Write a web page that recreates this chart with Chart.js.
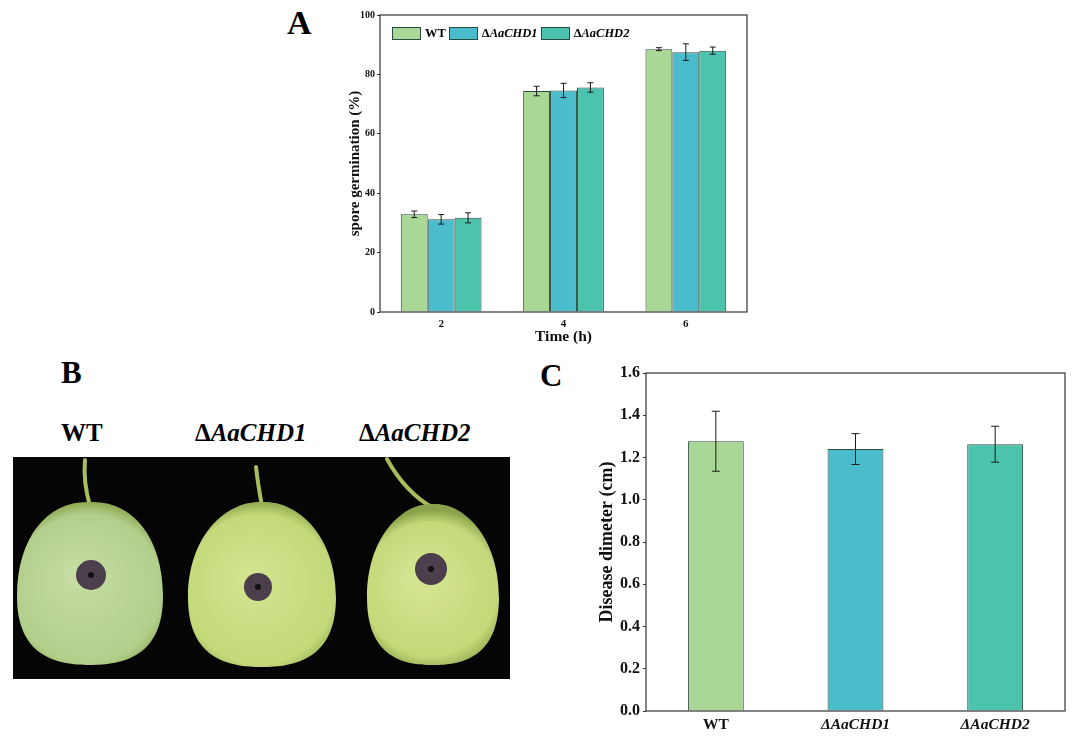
<!DOCTYPE html>
<html>
<head>
<meta charset="utf-8">
<script src="https://cdn.jsdelivr.net/npm/chart.js@4.4.1/dist/chart.umd.min.js"></script>
<style>
  body { margin: 0; width: 1080px; height: 739px; background: #fff; position: relative; overflow: hidden;
         font-family: "Liberation Serif", "Times New Roman", serif; }
  .abs { position: absolute; }
  .panel { font-weight: bold; font-size: 34px; line-height: 1; }
  .strain { font-weight: bold; font-size: 25px; line-height: 1; white-space: nowrap; }
  #legendA { left: 392px; top: 26px; font-weight: bold; font-size: 12.5px; display: flex; align-items: center; }
  #legendA .box { width: 27px; height: 11px; border: 1px solid #2d4a40; margin-right: 4px; }
  #legendA .item { display: flex; align-items: center; margin-right: 3px; }
</style>
</head>
<body>
<div class="abs panel" style="left:287px;top:6px;">A</div>
<div class="abs panel" style="left:61px;top:357px;font-size:31px;">B</div>
<div class="abs panel" style="left:540px;top:360px;font-size:31px;">C</div>

<canvas id="chartA" class="abs" style="left:330px;top:5px;" width="430" height="345"></canvas>
<div id="legendA" class="abs"></div>

<div class="abs strain" style="left:61px;top:420px;">WT</div>
<div class="abs strain" style="left:195px;top:420px;">&Delta;<i>AaCHD1</i></div>
<div class="abs strain" style="left:359px;top:420px;">&Delta;<i>AaCHD2</i></div>
<canvas id="photoB" class="abs" style="left:13px;top:457px;" width="497" height="222"></canvas>

<canvas id="chartC" class="abs" style="left:585px;top:360px;" width="490" height="379"></canvas>

<script>
// panel A: spore germination
const timeLabels = ['2', '4', '6'];
const strainNames = ['WT', '\u0394AaCHD1', '\u0394AaCHD2'];
const germWT = [32.9, 74.4, 88.5];
const germWTErr = [1.1, 1.6, 0.5];
const germCHD1 = [31.2, 74.6, 87.5];
const germCHD1Err = [1.6, 2.4, 2.8];
const germCHD2 = [31.7, 75.6, 88.0];
const germCHD2Err = [1.7, 1.6, 1.2];

// panel C: disease diameter
const diseaseDiam = [1.277, 1.240, 1.263];
const diseaseErr = [0.142, 0.073, 0.085];

const colors = ['#a9d795', '#4bbccb', '#4cc3ad'];
const edge = '#2d4a40';
const serif = '"Liberation Serif", "Times New Roman", serif';

// error bars + frame
const errorBars = {
  id: 'errorBars',
  afterDatasetsDraw(chart, args, opts) {
    const ctx = chart.ctx;
    const y = chart.scales.y;
    ctx.save();
    ctx.strokeStyle = '#1a1a1a';
    ctx.lineWidth = 1;
    chart.data.datasets.forEach((ds, i) => {
      const meta = chart.getDatasetMeta(i);
      meta.data.forEach((bar, j) => {
        const v = ds.data[j], e = ds.errors[j];
        const yt = y.getPixelForValue(v + e), yb = y.getPixelForValue(v - e);
        const c = opts.cap;
        ctx.beginPath();
        ctx.moveTo(bar.x, yt); ctx.lineTo(bar.x, yb);
        ctx.moveTo(bar.x - c, yt); ctx.lineTo(bar.x + c, yt);
        ctx.moveTo(bar.x - c, yb); ctx.lineTo(bar.x + c, yb);
        ctx.stroke();
      });
    });
    const a = chart.chartArea;
    ctx.strokeStyle = '#333';
    ctx.lineWidth = 1.2;
    ctx.strokeRect(a.left, a.top, a.right - a.left, a.bottom - a.top);
    ctx.restore();
  }
};

new Chart(document.getElementById('chartA'), {
  type: 'bar',
  data: {
    labels: timeLabels,
    datasets: [
      { label: strainNames[0], data: germWT, errors: germWTErr },
      { label: strainNames[1], data: germCHD1, errors: germCHD1Err },
      { label: strainNames[2], data: germCHD2, errors: germCHD2Err }
    ].map((d, i) => Object.assign(d, {
      backgroundColor: colors[i], borderColor: edge, borderWidth: 1,
      categoryPercentage: 0.66, barPercentage: 1
    }))
  },
  options: {
    responsive: false,
    animation: false,
    layout: { padding: { top: 10, right: 13, bottom: 4, left: 0 } },
    plugins: { legend: { display: false }, tooltip: { enabled: false }, errorBars: { cap: 3 } },
    scales: {
      x: {
        afterFit: s => { s.height = 34; },
        grid: { display: true, drawOnChartArea: false, drawTicks: true, tickLength: 3, color: 'rgba(0,0,0,0)' },
        border: { display: false },
        ticks: { color: '#111', padding: 3, font: { family: serif, size: 11, weight: 'bold' } },
        title: { display: true, text: 'Time (h)', color: '#111', padding: { top: 0, bottom: 0 },
                 font: { family: serif, size: 15.5, weight: 'bold' } }
      },
      y: {
        min: 0, max: 100,
        afterFit: s => { s.width = 50; },
        grid: { display: true, drawOnChartArea: false, drawTicks: true, tickLength: 3, color: '#333' },
        border: { display: false },
        ticks: { stepSize: 20, color: '#111', padding: 2, font: { family: serif, size: 10, weight: 'bold' } },
        title: { display: true, text: 'spore germination (%)', color: '#111', padding: { top: 16, bottom: 0 },
                 font: { family: serif, size: 15, weight: 'bold' } }
      }
    }
  },
  plugins: [errorBars]
});

// legend for panel A (inside the plot)
const legendA = document.getElementById('legendA');
strainNames.forEach((name, i) => {
  const item = document.createElement('div');
  item.className = 'item';
  const box = document.createElement('div');
  box.className = 'box';
  box.style.background = colors[i];
  const txt = document.createElement('span');
  if (i === 0) txt.textContent = name;
  else txt.innerHTML = '\u0394<i>' + name.slice(1) + '</i>';
  item.appendChild(box); item.appendChild(txt);
  legendA.appendChild(item);
});

new Chart(document.getElementById('chartC'), {
  type: 'bar',
  data: {
    labels: strainNames,
    datasets: [{
      data: diseaseDiam, errors: diseaseErr,
      backgroundColor: colors, borderColor: edge, borderWidth: 1,
      categoryPercentage: 1, barPercentage: 0.4
    }]
  },
  options: {
    responsive: false,
    animation: false,
    layout: { padding: { top: 13, right: 10, bottom: 0, left: 0 } },
    plugins: { legend: { display: false }, tooltip: { enabled: false }, errorBars: { cap: 4 } },
    scales: {
      x: {
        afterFit: s => { s.height = 28; },
        grid: { display: true, drawOnChartArea: false, drawTicks: true, tickLength: 3, color: 'rgba(0,0,0,0)' },
        border: { display: false },
        ticks: {
          color: '#111', padding: 2,
          font: ctx => ({ family: serif, size: 15.5, weight: 'bold', style: ctx.index === 0 ? 'normal' : 'italic' })
        }
      },
      y: {
        min: 0, max: 1.6,
        afterFit: s => { s.width = 61; },
        grid: { display: true, drawOnChartArea: false, drawTicks: true, tickLength: 3, color: '#333' },
        border: { display: false },
        ticks: { stepSize: 0.2, color: '#111', padding: 3,
                 callback: v => Number(v).toFixed(1),
                 font: { family: serif, size: 16, weight: 'bold' } },
        title: { display: true, text: 'Disease dimeter (cm)', color: '#111', padding: { top: 12, bottom: 0 },
                 font: { family: serif, size: 18, weight: 'bold' } }
      }
    }
  },
  plugins: [errorBars]
});

// panel B: sketch of the pear photo
(function () {
  const c = document.getElementById('photoB');
  const g = c.getContext('2d');
  g.fillStyle = '#050505';
  g.fillRect(0, 0, c.width, c.height);

  function pear(cx, top, bottom, half, shoulder, col, light, stem) {
    // stem
    g.strokeStyle = '#a9bd5c';
    g.lineWidth = 4;
    g.lineCap = 'round';
    g.beginPath();
    g.moveTo(stem[0], stem[1]);
    g.quadraticCurveTo(stem[2], stem[3], cx, top + 4);
    g.stroke();
    const h = bottom - top;
    g.beginPath();
    g.moveTo(cx, top);
    g.bezierCurveTo(cx + shoulder, top - 2, cx + half, top + h * 0.2, cx + half, top + h * 0.58);
    g.bezierCurveTo(cx + half, bottom - h * 0.05, cx + half * 0.45, bottom, cx, bottom);
    g.bezierCurveTo(cx - half * 0.45, bottom, cx - half, bottom - h * 0.05, cx - half, top + h * 0.58);
    g.bezierCurveTo(cx - half, top + h * 0.2, cx - shoulder, top - 2, cx, top);
    g.closePath();
    const grad = g.createRadialGradient(cx - half * 0.2, top + h * 0.45, 5, cx, top + h * 0.55, half * 1.25);
    grad.addColorStop(0, light);
    grad.addColorStop(0.8, col);
    grad.addColorStop(1, '#8aa34a');
    g.fillStyle = grad;
    g.fill();
  }
  function lesion(x, y, r) {
    g.fillStyle = '#4b3f4c';
    g.beginPath(); g.arc(x, y, r, 0, Math.PI * 2); g.fill();
    g.fillStyle = '#111';
    g.beginPath(); g.arc(x, y, 3, 0, Math.PI * 2); g.fill();
  }
  pear(77, 45, 208, 73, 40, '#b3cf8c', '#c6dca2', [72, 3, 70, 25]);
  lesion(78, 118, 15);
  pear(249, 45, 210, 74, 35, '#c3d97a', '#d3e38f', [243, 10, 245, 28]);
  lesion(245, 130, 14);
  pear(420, 47, 208, 66, 30, '#c5d87a', '#d5e592', [374, 2, 392, 35]);
  lesion(418, 112, 16);
})();
</script>
</body>
</html>
